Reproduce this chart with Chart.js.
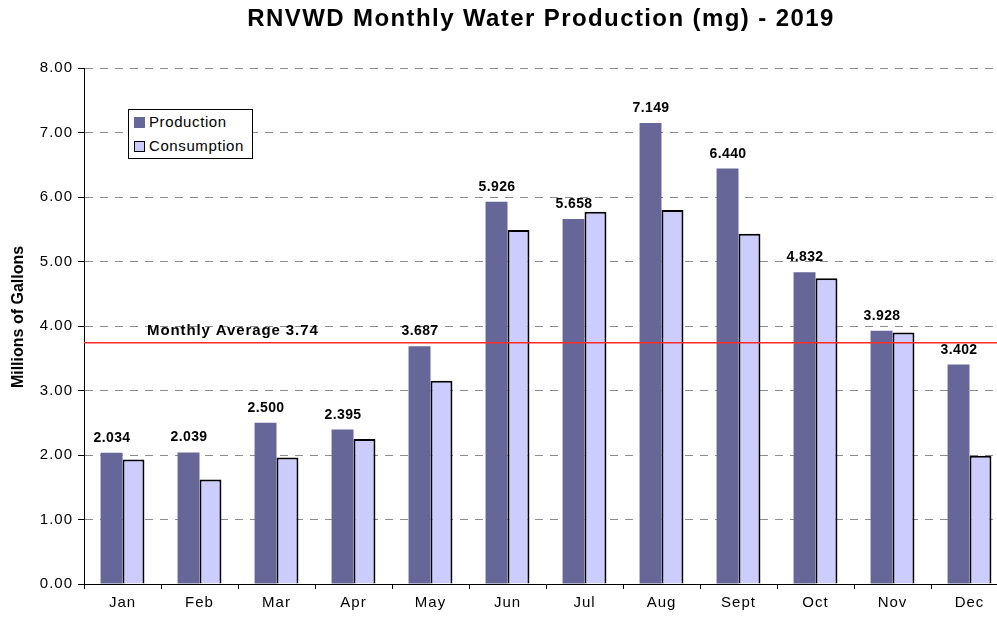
<!DOCTYPE html>
<html>
<head>
<meta charset="utf-8">
<script src="https://cdn.jsdelivr.net/npm/chart.js@4/dist/chart.umd.min.js"></script>
<style>
  html, body { margin:0; padding:0; background:#fff; overflow:hidden; width:997px; height:621px; }
  #wrap { position:relative; width:1010px; height:621px; }
  #legend { position:absolute; left:128px; top:109px; width:123px; height:48px; border:1px solid #000; background:#fff;
            font-family:"Liberation Sans", Arial, sans-serif; font-size:15px; letter-spacing:0.6px; color:#000; }
  .item { position:absolute; left:5px; height:16px; line-height:16px; white-space:nowrap; }
  .sw { display:inline-block; width:11px; height:11px; vertical-align:-1px; margin-right:4px; box-sizing:border-box; }
</style>
</head>
<body>
<div id="wrap">
  <canvas id="c" width="1010" height="621"></canvas>
  <div id="legend"></div>
</div>
<script>
const titleText = "RNVWD Monthly Water Production (mg) - 2019";
const months = ["Jan","Feb","Mar","Apr","May","Jun","Jul","Aug","Sept","Oct","Nov","Dec"];
const production = [2.034, 2.039, 2.500, 2.395, 3.687, 5.926, 5.658, 7.149, 6.440, 4.832, 3.928, 3.402];
const consumption = [1.93, 1.62, 1.96, 2.25, 3.15, 5.49, 5.77, 5.80, 5.43, 4.74, 3.90, 1.99];
const monthlyAverage = 3.74;
const averageLabel = "Monthly Average 3.74";
const yTitle = "Millions of Gallons";
const seriesNames = ["Production", "Consumption"];

const FONT = '"Liberation Sans", Arial, sans-serif';

const legendEl = document.getElementById('legend');
const swStyles = ['background:#666699;', 'background:#CCCCFF;border:1px solid #000;'];
seriesNames.forEach((n, i) => {
  const d = document.createElement('div');
  d.className = 'item';
  d.style.top = (i === 0 ? 4 : 28) + 'px';
  d.innerHTML = '<span class="sw" style="' + swStyles[i] + '"></span>' + n;
  legendEl.appendChild(d);
});

const spacing = {
  id: 'spacing',
  beforeDraw(chart) { chart.ctx.letterSpacing = '1px'; },
  afterDraw(chart) { chart.ctx.letterSpacing = '0px'; }
};

const overlay = {
  id: 'overlay',
  afterDatasetsDraw(chart) {
    const ctx = chart.ctx;
    const area = chart.chartArea;
    const y = chart.scales.y;
    const ay = y.getPixelForValue(monthlyAverage);
    ctx.save();
    ctx.strokeStyle = '#ff2a2a';
    ctx.lineWidth = 1.5;
    ctx.beginPath();
    ctx.moveTo(area.left, ay);
    ctx.lineTo(area.right, ay);
    ctx.stroke();
    ctx.fillStyle = '#000';
    ctx.font = 'bold 15px ' + FONT;
    ctx.letterSpacing = '0.9px';
    ctx.textAlign = 'left';
    ctx.textBaseline = 'alphabetic';
    ctx.fillText(averageLabel, 147, ay - 8);
    const meta = chart.getDatasetMeta(0);
    ctx.textAlign = 'center';
    ctx.font = 'bold 14px ' + FONT;
    ctx.letterSpacing = '0.4px';
    meta.data.forEach((bar, i) => {
      ctx.fillText(production[i].toFixed(3), bar.x + 0.5, bar.y - 11);
    });
    ctx.font = 'bold 24px ' + FONT;
    ctx.letterSpacing = '1.4px';
    ctx.fillText(titleText, 541, 26);
    // y axis title
    ctx.letterSpacing = '0px';
    ctx.font = 'bold 16px ' + FONT;
    ctx.translate(23, 317);
    ctx.rotate(-Math.PI / 2);
    ctx.textAlign = 'center';
    ctx.textBaseline = 'alphabetic';
    ctx.fillText(yTitle, 0, 0);
    ctx.restore();
  }
};

new Chart(document.getElementById('c'), {
  type: 'bar',
  data: {
    labels: months,
    datasets: [
      { label: seriesNames[0], data: production, backgroundColor: '#666699', borderWidth: 0,
        barPercentage: 1.0, categoryPercentage: 0.57 },
      { label: seriesNames[1], data: consumption, backgroundColor: '#CCCCFF', borderColor: '#000', borderWidth: 2,
        barPercentage: 1.0, categoryPercentage: 0.57 }
    ]
  },
  options: {
    responsive: false,
    animation: false,
    events: [],
    layout: { padding: { left: 0, right: 2, top: 68, bottom: 0 } },
    plugins: { legend: { display: false }, title: { display: false }, tooltip: { enabled: false } },
    scales: {
      x: {
        afterFit(s) { s.height = 37; },
        grid: { display: true, offset: true, drawOnChartArea: false, color: '#000', tickLength: 5 },
        border: { display: true, color: '#000', width: 1 },
        ticks: { color: '#000', font: { family: FONT, size: 15 }, padding: 5 }
      },
      y: {
        min: 0, max: 8,
        afterFit(s) { s.width = 84; },
        grid: { color: '#8c8c8c', tickBorderDash: [], tickColor: '#000', tickLength: 6, lineWidth: 1 },
        border: { display: true, color: '#000', width: 1, dash: [8, 7] },
        ticks: { stepSize: 1, color: '#000', font: { family: FONT, size: 15 }, padding: 5,
                 callback: v => v.toFixed(2) },
        title: { display: false }
      }
    }
  },
  plugins: [spacing, overlay]
});
</script>
</body>
</html>
